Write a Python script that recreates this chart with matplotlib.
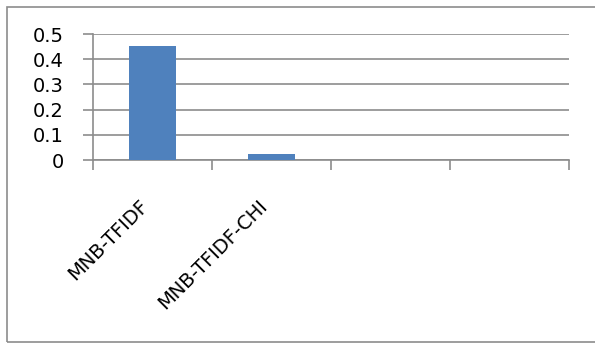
import matplotlib.pyplot as plt
from matplotlib.patches import Rectangle

labels = ['MNB-TFIDF', 'MNB-TFIDF-CHI', '', '']
scores = [0.452, 0.025, 0, 0]
yticks = [0, 0.1, 0.2, 0.3, 0.4, 0.5]

W, H = 595, 352
fig = plt.figure(figsize=(W / 100, H / 100), dpi=100)
plt.rcParams['font.family'] = ['DejaVu Sans']

# outer chart frame
fig.patches.append(Rectangle((7 / W, 1 - 342 / H), 1.0, (342 - 7) / H,
                             transform=fig.transFigure, fill=False,
                             edgecolor='#8c8c8c', linewidth=1.2))

ax = fig.add_axes([93 / W, 1 - 160 / H, (569 - 93) / W, (160 - 34) / H])
x = list(range(len(labels)))
ax.bar(x, scores, width=0.4, color='#4f81bd', zorder=3)

ax.set_xlim(-0.5, len(labels) - 0.5)
ax.set_ylim(0, 0.5)
ax.set_yticks(yticks)
ax.set_yticklabels(['0' if v == 0 else f'{v:g}' for v in yticks])
ax.yaxis.grid(True, color='#8c8c8c', linewidth=1.2, zorder=0)

for side in ('top', 'right'):
    ax.spines[side].set_visible(False)
for side in ('left', 'bottom'):
    ax.spines[side].set_color('#8c8c8c')
    ax.spines[side].set_linewidth(1.2)

# boundary ticks between categories, labels at centres
ax.set_xticks([i - 0.5 for i in range(len(labels) + 1)])
ax.set_xticklabels([])
ax.set_xticks(x, minor=True)
ax.set_xticklabels(labels, minor=True, rotation=45, ha='right', va='top',
                   fontsize=14)
ax.tick_params(axis='x', which='major', length=7, width=1.2, color='#8c8c8c')
ax.tick_params(axis='x', which='minor', length=0, pad=26)
ax.tick_params(axis='y', length=7, width=1.2, color='#8c8c8c',
               labelsize=14, pad=14)

fig.savefig('out.png', dpi=100)
